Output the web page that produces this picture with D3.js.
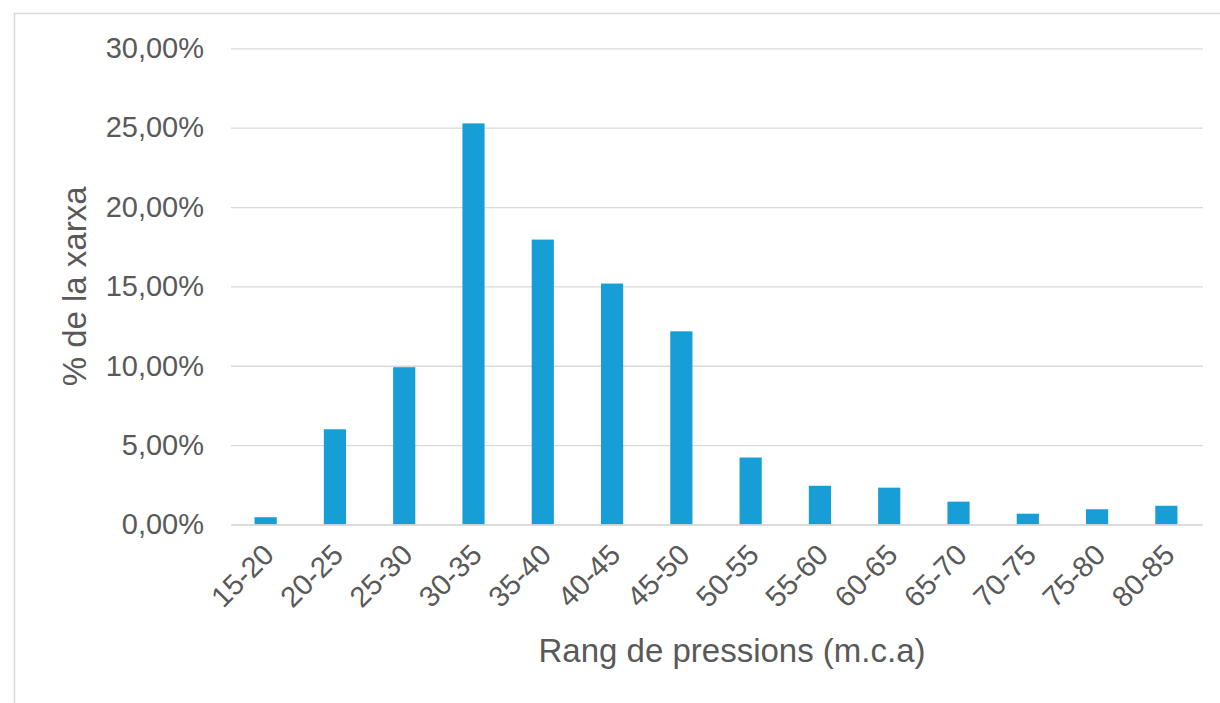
<!DOCTYPE html>
<html>
<head>
<meta charset="utf-8">
<script src="https://cdn.jsdelivr.net/npm/d3@7"></script>
<style>
  html, body { margin: 0; padding: 0; background: #fff; }
  svg { display: block; }
  text { font-family: "Liberation Sans", Arial, sans-serif; fill: #595959; }
</style>
</head>
<body>
<svg id="chart" width="1220" height="703"></svg>
<script>
const categories = ["15-20","20-25","25-30","30-35","35-40","40-45","45-50","50-55","55-60","60-65","65-70","70-75","75-80","80-85"];
const values = [0.0046, 0.0600, 0.0991, 0.2527, 0.1795, 0.1518, 0.1217, 0.0422, 0.0244, 0.0232, 0.0144, 0.0068, 0.0096, 0.0118];
const yTicks = [0, 0.05, 0.10, 0.15, 0.20, 0.25, 0.30];
const xTitle = "Rang de pressions (m.c.a)";
const yTitle = "% de la xarxa";

const svg = d3.select("#chart");
const W = 1220, H = 703;
const m = { left: 231, right: 1201, top: 48.3, bottom: 524.5 };

// chart border
svg.append("rect")
  .attr("x", 14.5).attr("y", 13.5)
  .attr("width", W + 20).attr("height", H + 20)
  .attr("fill", "none").attr("stroke", "#d9d9d9").attr("stroke-width", 1.5);

const x = d3.scaleBand().domain(categories).range([m.left, m.right]).paddingInner(0.68).paddingOuter(0.34);
const y = d3.scaleLinear().domain([0, 0.30]).range([m.bottom, m.top]);

const fmt = v => d3.format(".2f")(v * 100).replace(".", ",") + "%";

// y axis (gridlines + labels)
const yAxis = d3.axisLeft(y).tickValues(yTicks).tickFormat(fmt)
  .tickSize(-(m.right - m.left + 2)).tickPadding(27);
const gy = svg.append("g").attr("transform", `translate(${m.left},0)`).call(yAxis);
gy.select(".domain").remove();
gy.selectAll(".tick line").attr("stroke", "#d9d9d9").attr("stroke-width", 1.3);
gy.selectAll(".tick text").attr("font-size", 29).attr("fill", "#595959")
  .style("font-family", '"Liberation Sans", Arial, sans-serif');

// bars
svg.append("g").selectAll("rect").data(values).join("rect")
  .attr("x", (d, i) => x(categories[i]))
  .attr("width", x.bandwidth())
  .attr("y", d => y(d))
  .attr("height", d => y(0) - y(d))
  .attr("fill", "#179ed7");

// x axis
const xAxis = d3.axisBottom(x).tickSize(0).tickPadding(0);
const gx = svg.append("g").attr("transform", `translate(0,${m.bottom})`).call(xAxis);
gx.select(".domain").attr("stroke", "#d9d9d9").attr("stroke-width", 1.3);
gx.selectAll(".tick text")
  .attr("font-size", 29).attr("fill", "#595959")
  .style("font-family", '"Liberation Sans", Arial, sans-serif')
  .attr("text-anchor", "end")
  .attr("dy", null).attr("y", null)
  .attr("transform", "translate(3,25) rotate(-45)")
  .attr("dominant-baseline", "central");

// axis titles
svg.append("text")
  .attr("x", 732).attr("y", 662)
  .attr("text-anchor", "middle")
  .attr("font-size", 33)
  .text(xTitle);

svg.append("text")
  .attr("transform", `translate(86,${(m.top + m.bottom) / 2}) rotate(-90)`)
  .attr("text-anchor", "middle")
  .attr("font-size", 33)
  .text(yTitle);
</script>
</body>
</html>
